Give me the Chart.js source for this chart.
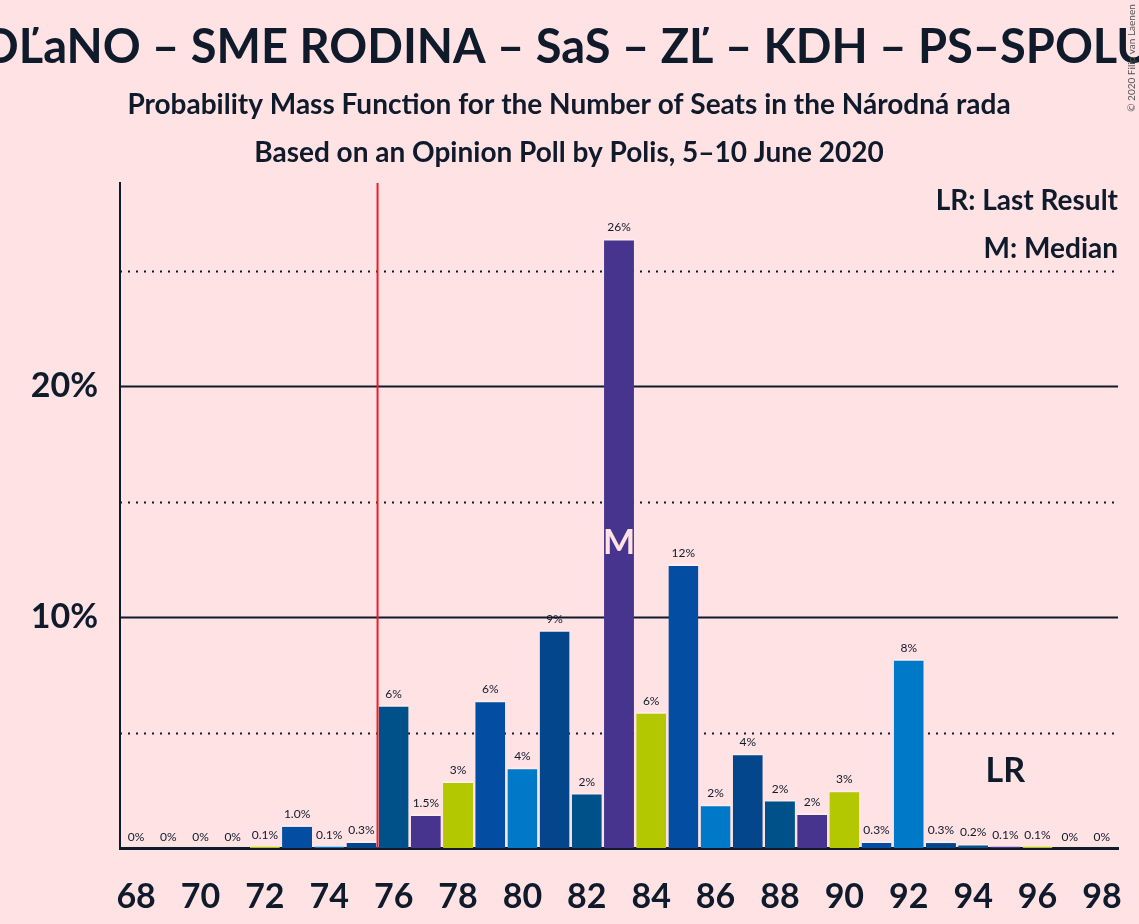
<!DOCTYPE html>
<html>
<head>
<meta charset="utf-8">
<script src="https://cdn.jsdelivr.net/npm/chart.js@4/dist/chart.umd.min.js"></script>
<style>
    html, body { margin: 0; padding: 0; background: #ffe2e4; }
    #wrap { width: 1139px; height: 924px; position: relative; }
</style>
</head>
<body>
<div id="wrap"><canvas id="chart" width="1139" height="924"></canvas></div>
<script>
// seats 68..98
const seats = []
for (let s = 68; s <= 98; s++) seats.push(String(s))

// probability in %
const probability = [
    0, 0, 0, 0, 0.1, 1.0, 0.1, 0.3, 6.2, 1.47,
    2.9, 6.4, 3.5, 9.45, 2.4, 26.4, 5.9, 12.3, 1.9, 4.1,
    2.1, 1.52, 2.5, 0.3, 8.2, 0.3, 0.2, 0.1, 0.1, 0, 0
]

const partyColors = ['#034ea2', '#0079c8', '#04468c', '#005189', '#46348e', '#b3c800']
const solidLines = [10, 20]
const dottedLines = [5, 15, 25]
const majority = 76
const median = 83
const lastResult = 95

const ink = '#0f1a2b'
const font = 'Lato, "DejaVu Sans", sans-serif'

const barColors = seats.map((s) => partyColors[(((Number(s) - 73) % 6) + 6) % 6])

function labelFor(v) {
    if (v < 0.05) return '0%'
    if (v < 1.5) return v.toFixed(1) + '%'
    return Math.round(v) + '%'
}

const decorations = {
    id: 'decorations',
    beforeDatasetsDraw(chart) {
        const { ctx, chartArea, scales } = chart
        const y = scales.y
        const x = scales.x
        ctx.save()
        ctx.strokeStyle = ink
        ctx.lineWidth = 2
        dottedLines.forEach((v) => {
            const py = Math.round(y.getPixelForValue(v)) + 0.5
            ctx.setLineDash([2, 6])
            ctx.beginPath()
            ctx.moveTo(chartArea.left, py)
            ctx.lineTo(chartArea.right, py)
            ctx.stroke()
        })
        ctx.setLineDash([])
        solidLines.forEach((v) => {
            const py = Math.round(y.getPixelForValue(v)) + 0.5
            ctx.beginPath()
            ctx.moveTo(chartArea.left, py)
            ctx.lineTo(chartArea.right, py)
            ctx.stroke()
        })
        // majority line
        const i = seats.indexOf(String(majority))
        const mx = (x.getPixelForValue(i - 1) + x.getPixelForValue(i)) / 2
        ctx.strokeStyle = '#ee1c25'
        ctx.lineWidth = 2
        ctx.beginPath()
        ctx.moveTo(mx, chartArea.top)
        ctx.lineTo(mx, chartArea.bottom)
        ctx.stroke()
        ctx.restore()
    },
    afterDatasetsDraw(chart) {
        const { ctx, chartArea, scales } = chart
        const meta = chart.getDatasetMeta(0)
        ctx.save()
        ctx.fillStyle = ink
        ctx.textAlign = 'center'
        ctx.textBaseline = 'alphabetic'
        ctx.font = '12px ' + font
        meta.data.forEach((bar, idx) => {
            ctx.fillText(labelFor(probability[idx]), bar.x, bar.y - 7)
        })

        // median marker
        const mi = seats.indexOf(String(median))
        const mb = meta.data[mi]
        ctx.fillStyle = '#ffe2e4'
        ctx.font = 'bold 34px ' + font
        ctx.textBaseline = 'middle'
        ctx.fillText('M', mb.x, scales.y.getPixelForValue(probability[mi] / 2))

        // last result marker
        const li = seats.indexOf(String(lastResult))
        ctx.fillStyle = ink
        ctx.fillText('LR', scales.x.getPixelForValue(li), 771)

        // legend texts
        ctx.textAlign = 'right'
        ctx.font = 'bold 28px ' + font
        ctx.fillText('LR: Last Result', chartArea.right, 201)
        ctx.fillText('M: Median', chartArea.right, 249)

        // titles
        ctx.textAlign = 'center'
        ctx.font = 'bold 47px ' + font
        ctx.fillText('OĽaNO – SME RODINA – SaS – ZĽ – KDH – PS–SPOLU', 566, 48)
        ctx.font = 'bold 28px ' + font
        ctx.fillText('Probability Mass Function for the Number of Seats in the Národná rada', 569, 105)
        ctx.fillText('Based on an Opinion Poll by Polis, 5–10 June 2020', 569, 153)

        // copyright
        ctx.save()
        ctx.translate(1132, 58)
        ctx.rotate(-Math.PI / 2)
        ctx.font = '10px ' + font
        ctx.fillStyle = '#555'
        ctx.fillText('© 2020 Filip van Laenen', 0, 0)
        ctx.restore()
        ctx.restore()
    }
}

new Chart(document.getElementById('chart').getContext('2d'), {
    type: 'bar',
    data: {
        labels: seats,
        datasets: [
            {
                data: probability,
                backgroundColor: barColors,
                borderColor: 'rgba(255,255,255,0.35)',
                borderWidth: { top: 2, left: 0, right: 0, bottom: 0 },
                borderSkipped: 'bottom',
                categoryPercentage: 0.93,
                barPercentage: 1
            }
        ]
    },
    options: {
        responsive: false,
        animation: false,
        devicePixelRatio: 1,
        layout: { padding: { top: 183, right: 21, left: 0, bottom: 0 } },
        plugins: {
            legend: { display: false },
            tooltip: { enabled: false },
            title: { display: false }
        },
        scales: {
            x: {
                grid: { display: false, drawTicks: false },
                border: { display: true, color: ink, width: 3 },
                ticks: {
                    color: ink,
                    font: { family: font, size: 34, weight: 'bold' },
                    padding: 29,
                    autoSkip: false,
                    maxRotation: 0,
                    callback: (value, index) => (index % 2 === 0 ? seats[index] : '')
                },
                afterFit: (scale) => {
                    scale.height = 76
                    scale.paddingLeft = 0
                    scale.paddingRight = 0
                }
            },
            y: {
                min: 0,
                max: 28.8,
                grid: { display: false, drawTicks: false },
                border: { display: true, color: ink, width: 2 },
                ticks: {
                    stepSize: 10,
                    color: ink,
                    font: { family: font, size: 34, weight: 'bold' },
                    padding: 22,
                    callback: (v) => (v > 0 && v % 10 === 0 ? v + '%' : '')
                },
                afterFit: (scale) => {
                    scale.width = 120
                    scale.paddingTop = 0
                    scale.paddingBottom = 0
                }
            }
        }
    },
    plugins: [decorations]
})
</script>
</body>
</html>
